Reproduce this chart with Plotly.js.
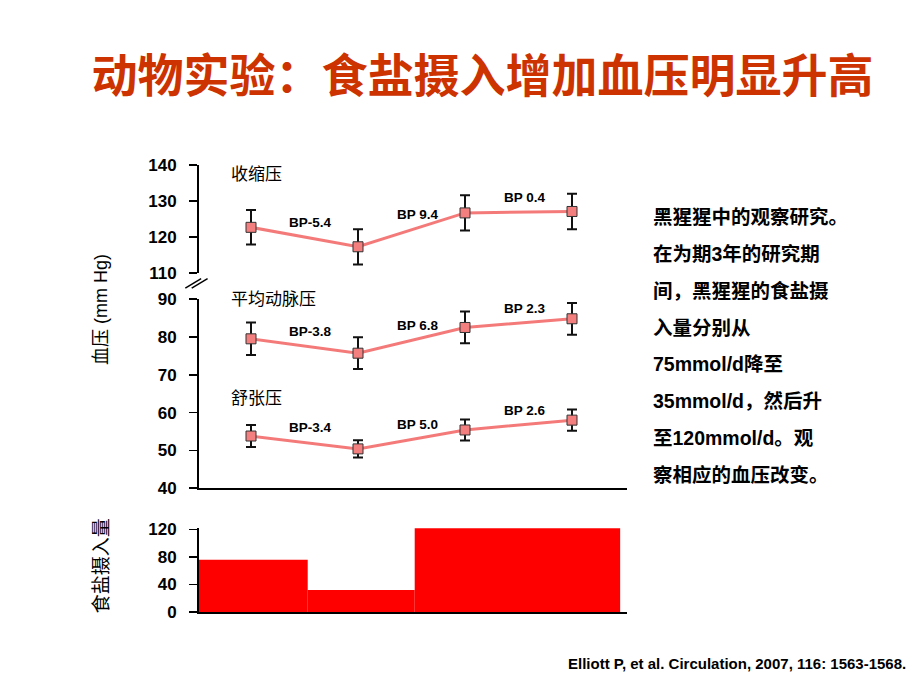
<!DOCTYPE html>
<html><head><meta charset="utf-8">
<script src="https://cdn.plot.ly/plotly-3.0.1.min.js"></script>
<style>body{margin:0;background:#fff}#chart{width:920px;height:690px}</style>
</head><body><div id="chart"></div>
<script>
// ---- data ----
const timepoints = [1, 2, 3, 4];
const systolic = [122.7, 117.3, 126.7, 127.1];
const systolicErr = [4.8, 4.9, 4.9, 4.9];
const meanArterial = [79.5, 75.7, 82.5, 84.8];
const meanArterialErr = [4.3, 4.2, 4.2, 4.2];
const diastolic = [53.8, 50.4, 55.4, 58.0];
const diastolicErr = [2.9, 2.3, 2.8, 2.8];
const systolicChange = ["BP-5.4", "BP 9.4", "BP 0.4"];
const meanChange = ["BP-3.8", "BP 6.8", "BP 2.3"];
const diastolicChange = ["BP-3.4", "BP 5.0", "BP 2.6"];
const seriesNames = ["收缩压", "平均动脉压", "舒张压"];
const intakeStart = [0.51, 1.53, 2.53];
const intakeEnd = [1.53, 2.53, 4.45];
const saltIntake = [76, 32, 122];
const bpTicks = [40, 50, 60, 70, 80, 90];
const bpTopTicks = [110, 120, 130, 140];
const intakeTicks = [0, 40, 80, 120];
const noteLines = ["黑猩猩中的观察研究。", "在为期3年的研究期", "间，黑猩猩的食盐摄", "入量分别从", "75mmol/d降至", "35mmol/d，然后升", "至120mmol/d。观", "察相应的血压改变。"];
const titleText = "动物实验：食盐摄入增加血压明显升高";
const citation = "Elliott P, et al. Circulation, 2007, 116: 1563-1568.";

// ---- styles ----
const LAT = "Liberation Sans, Arial, sans-serif";
const CJK = "Liberation Sans, Noto Sans CJK SC, sans-serif";
const lineColor = "#F47A7A";
function bpTrace(y, err, ya) {
  return {
    type: "scatter", mode: "lines+markers", x: timepoints, y: y,
    xaxis: "x2", yaxis: ya,
    line: {color: lineColor, width: 3},
    marker: {symbol: "square", size: 10, color: "#F47F7F", line: {color: "#333", width: 1}},
    error_y: {type: "data", array: err, visible: true, color: "#111", thickness: 2, width: 5},
    hoverinfo: "skip", showlegend: false
  };
}
const traces = [
  {
    type: "bar", x: intakeStart.map((s, i) => (s + intakeEnd[i]) / 2),
    width: intakeStart.map((s, i) => intakeEnd[i] - s), y: saltIntake,
    marker: {color: "#FF0000", line: {width: 0}}, xaxis: "x", yaxis: "y",
    hoverinfo: "skip", showlegend: false
  },
  bpTrace(systolic, systolicErr, "y3"),
  bpTrace(meanArterial, meanArterialErr, "y2"),
  bpTrace(diastolic, diastolicErr, "y2")
];

const tickFont = {family: LAT, size: 17, color: "#000", weight: "bold"};
const yCommon = {
  showline: true, linecolor: "#000", linewidth: 2, ticks: "outside", ticklen: 8,
  tickwidth: 1.5, tickcolor: "#000", tickfont: tickFont, showgrid: false, zeroline: false,
  ticklabelstandoff: 9, fixedrange: true
};
const annotations = [];
function changeLabels(vals, labels, ya) {
  labels.forEach((t, i) => {
    annotations.push({
      x: (timepoints[i] + timepoints[i + 1]) / 2, y: (vals[i] + vals[i + 1]) / 2,
      xref: "x2", yref: ya, text: t, showarrow: false, xshift: 6, yshift: 15,
      xanchor: "center", yanchor: "middle",
      font: {family: LAT, size: 13.5, color: "#000", weight: "bold"}
    });
  });
}
changeLabels(systolic, systolicChange, "y3");
changeLabels(meanArterial, meanChange, "y2");
changeLabels(diastolic, diastolicChange, "y2");

// series names (paper coords)
const nameY = [0.978, 0.7, 0.4775];
seriesNames.forEach((t, i) => annotations.push({
  x: 0.0705, y: nameY[i], xref: "paper", yref: "paper", xanchor: "left", yanchor: "middle",
  text: t, showarrow: false, font: {family: CJK, size: 17, color: "#000"}
}));
// axis titles
annotations.push({x: -0.229, y: 0.678, xref: "paper", yref: "paper", text: "血压 (mm Hg)", textangle: -90,
  xanchor: "center", yanchor: "middle", showarrow: false, font: {family: CJK, size: 18, color: "#000"}});
annotations.push({x: -0.229, y: 0.1045, xref: "paper", yref: "paper", text: "食盐摄入量", textangle: -90,
  xanchor: "center", yanchor: "middle", showarrow: false, font: {family: CJK, size: 19, color: "#000"}});
// note block
noteLines.forEach((t, i) => annotations.push({
  x: 1.056, y: (611.7 - (216.7 + i * 36.9)) / 446.7, xref: "paper", yref: "paper",
  xanchor: "left", yanchor: "middle", text: t, showarrow: false,
  font: {family: CJK, size: 19.5, color: "#000", weight: "bold"}
}));
// citation
annotations.push({x: (908 - 199) / 428, y: (611.7 - 663) / 446.7, xref: "paper", yref: "paper", text: citation,
  xanchor: "right", yanchor: "middle", showarrow: false,
  font: {family: LAT, size: 15, color: "#000", weight: "bold"}});

const layout = {
  width: 920, height: 690, paper_bgcolor: "#fff", plot_bgcolor: "rgba(0,0,0,0)",
  margin: {l: 199, r: 293, t: 165, b: 78},
  title: {text: titleText, x: 482.5 / 920, xanchor: "center", y: 1 - 76 / 690, yanchor: "middle",
    font: {family: "Noto Sans CJK SC, sans-serif", size: 46, color: "#CC3300", weight: "bold"}},
  xaxis: {domain: [0, 1], range: [0.514, 4.514], showline: true, linecolor: "#000", linewidth: 2,
    showticklabels: false, ticks: "", showgrid: false, zeroline: false, anchor: "y", fixedrange: true},
  xaxis2: {domain: [0, 1], range: [0.514, 4.514], showline: true, linecolor: "#000", linewidth: 2,
    showticklabels: false, ticks: "", showgrid: false, zeroline: false, anchor: "y2", fixedrange: true},
  yaxis: Object.assign({}, yCommon, {domain: [0, 0.188], range: [0, 122.3], tickvals: intakeTicks, anchor: "x"}),
  yaxis2: Object.assign({}, yCommon, {domain: [0.2769, 0.700], range: [40, 90], tickvals: bpTicks, anchor: "x2"}),
  yaxis3: Object.assign({}, yCommon, {domain: [0.7582, 1.0], range: [110, 140], tickvals: bpTopTicks, anchor: "x2"}),
  annotations: annotations,
  shapes: [
    {type: "line", xref: "paper", yref: "paper", x0: -0.032, y0: 0.7247, x1: 0.005, y1: 0.7459, line: {color: "#000", width: 1.5}},
    {type: "line", xref: "paper", yref: "paper", x0: -0.017, y0: 0.7247, x1: 0.020, y1: 0.7459, line: {color: "#000", width: 1.5}}
  ],
  showlegend: false
};
Plotly.newPlot("chart", traces, layout, {staticPlot: true});
</script>
</body></html>
